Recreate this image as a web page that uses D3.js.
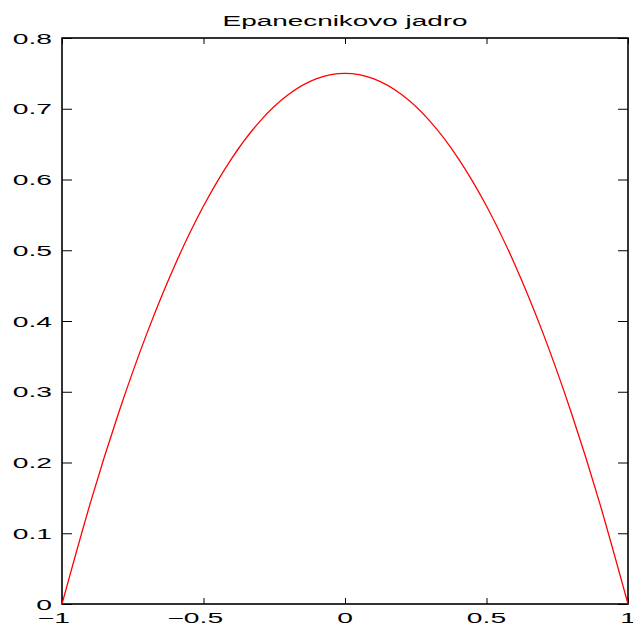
<!DOCTYPE html>
<html>
<head>
<meta charset="utf-8">
<script src="https://cdn.jsdelivr.net/npm/d3@7"></script>
<style>
  body { margin: 0; background: #fff; }
  svg { display: block; }
  text { font-family: "Liberation Sans", Arial, sans-serif; fill: #000; }
</style>
</head>
<body>
<div id="chart"></div>
<script>
// values
var xs = [-1, -0.9, -0.8, -0.7, -0.6, -0.5, -0.4, -0.3, -0.2, -0.1, 0,
          0.1, 0.2, 0.3, 0.4, 0.5, 0.6, 0.7, 0.8, 0.9, 1];
var ys = [0, 0.1425, 0.27, 0.3825, 0.48, 0.5625, 0.63, 0.6825, 0.72, 0.7425, 0.75,
          0.7425, 0.72, 0.6825, 0.63, 0.5625, 0.48, 0.3825, 0.27, 0.1425, 0];
var xTicks = [-1, -0.5, 0, 0.5, 1];
var yTicks = [0, 0.1, 0.2, 0.3, 0.4, 0.5, 0.6, 0.7, 0.8];
var title = "Epanecnikovo jadro";

var W = 633, H = 627;
var mLeft = 62, mTop = 38, mRight = 628, mBottom = 604;
var stretch = 1.95; // the labels are drawn very wide

var svg = d3.select("#chart").append("svg")
  .attr("width", W)
  .attr("height", H);

var x = d3.scaleLinear().domain([-1, 1]).range([mLeft, mRight]);
var y = d3.scaleLinear().domain([0, 0.8]).range([mBottom, mTop]);

// ticks inward on all four sides
svg.append("g").attr("transform", "translate(0," + mBottom + ")")
  .call(d3.axisTop(x).tickValues(xTicks).tickSize(6).tickFormat(""));
svg.append("g").attr("transform", "translate(0," + mTop + ")")
  .call(d3.axisBottom(x).tickValues(xTicks).tickSize(6).tickFormat(""));
svg.append("g").attr("transform", "translate(" + mLeft + ",0)")
  .call(d3.axisRight(y).tickValues(yTicks).tickSize(10).tickFormat(""));
svg.append("g").attr("transform", "translate(" + mRight + ",0)")
  .call(d3.axisLeft(y).tickValues(yTicks).tickSize(10).tickFormat(""));
svg.selectAll(".domain").remove();
svg.selectAll(".tick line").attr("stroke", "#000").attr("stroke-width", 1);

svg.append("rect")
  .attr("x", mLeft).attr("y", mTop)
  .attr("width", mRight - mLeft).attr("height", mBottom - mTop)
  .attr("fill", "none").attr("stroke", "#000").attr("stroke-width", 1.6);

function fmt(d) { return d === 0 ? "0" : String(Math.abs(d)); }

// x labels: the number is centred on the tick, the minus hangs to the left
var xl = svg.selectAll(".xlab").data(xTicks).enter().append("g")
  .attr("class", "xlab")
  .attr("transform", function(d) { return "translate(" + x(d) + ",623) scale(" + stretch + ",1)"; });
xl.append("text")
  .attr("text-anchor", "middle")
  .attr("font-size", "14.5px")
  .text(fmt)
  .each(function(d) {
    if (d < 0) {
      var w = this.getComputedTextLength();
      d3.select(this.parentNode).append("text")
        .attr("x", -w / 2)
        .attr("text-anchor", "end")
        .attr("font-size", "14.5px")
        .text("\u2212");
    }
  });

svg.selectAll(".ylab").data(yTicks).enter().append("text")
  .attr("class", "ylab")
  .attr("transform", function(d) { return "translate(52," + (y(d) + 5.5) + ") scale(" + stretch + ",1)"; })
  .attr("text-anchor", "end")
  .attr("font-size", "14.5px")
  .text(function(d) { return d === 0 ? "0" : d3.format(".1f")(d); });

svg.append("text")
  .attr("transform", "translate(" + ((mLeft + mRight) / 2) + ",26) scale(1.8,1)")
  .attr("text-anchor", "middle")
  .attr("font-size", "15.5px")
  .text(title);

var line = d3.line()
  .x(function(d, i) { return x(xs[i]); })
  .y(function(d) { return y(d); })
  .curve(d3.curveNatural);

svg.append("path")
  .datum(ys)
  .attr("d", line)
  .attr("fill", "none")
  .attr("stroke", "#ff0000")
  .attr("stroke-width", 1.3);
</script>
</body>
</html>
